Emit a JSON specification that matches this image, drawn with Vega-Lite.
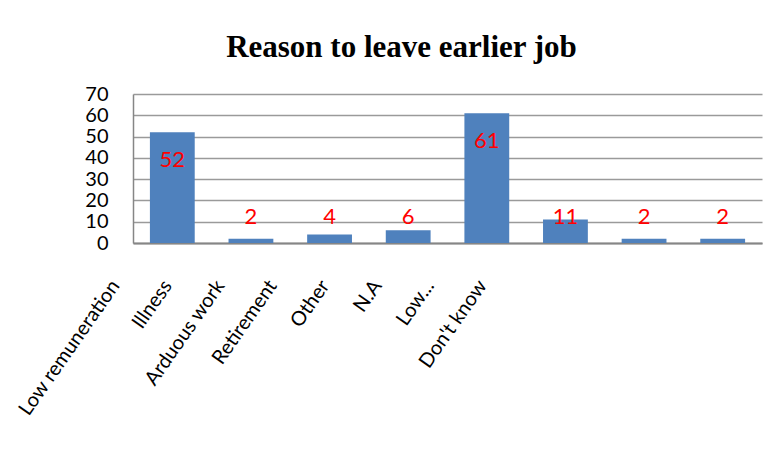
{
  "$schema": "https://vega.github.io/schema/vega-lite/v6.json",
  "autosize": "none",
  "width": 629,
  "height": 149,
  "padding": {"left": 133, "top": 94, "right": 19, "bottom": 210},
  "background": "white",
  "title": {"text": "Reason to leave earlier job", "font": "Liberation Serif", "fontSize": 31, "fontWeight": "bold", "color": "black", "anchor": "middle", "dx": -46, "offset": 20},
  "data": {"values": [
    {"reason": "Low remuneration", "count": 52},
    {"reason": "Illness", "count": 2},
    {"reason": "Arduous work", "count": 4},
    {"reason": "Retirement", "count": 6},
    {"reason": "Other", "count": 61},
    {"reason": "N.A", "count": 11},
    {"reason": "Low...", "count": 2},
    {"reason": "Don't know", "count": 2}
  ]},
  "config": {"view": {"stroke": null}},
  "layer": [
    {
      "layer": [
        {
          "mark": {"type": "bar", "color": "#4F81BD"},
          "encoding": {
            "x": {"field": "reason", "type": "nominal", "sort": null, "scale": {"paddingInner": 0.43, "paddingOuter": 0.215},
              "axis": {"labels": false, "ticks": false, "title": null, "domainColor": "#868686", "domainWidth": 2}},
            "y": {"field": "count", "type": "quantitative", "scale": {"domain": [0, 70]},
              "axis": {"title": null, "values": [0, 10, 20, 30, 40, 50, 60, 70], "grid": true, "gridColor": "#9a9a9a", "gridWidth": 1.5, "ticks": false, "domainColor": "#868686", "domainWidth": 1.5, "labelFont": "Lato", "labelFontSize": 20, "labelColor": "black", "labelPadding": 25, "labelOverlap": false}}
          }
        },
        {
          "transform": [{"filter": "datum.count >= 20"}],
          "mark": {"type": "text", "color": "#FF0000", "font": "Lato", "fontSize": 22, "baseline": "middle", "dy": 28},
          "encoding": {
            "x": {"field": "reason", "type": "nominal", "sort": null},
            "y": {"field": "count", "type": "quantitative",
              "axis": {"title": null, "values": [0, 10, 20, 30, 40, 50, 60, 70], "grid": true, "gridColor": "#9a9a9a", "gridWidth": 1.5, "ticks": false, "domainColor": "#868686", "domainWidth": 1.5, "labelFont": "Lato", "labelFontSize": 20, "labelColor": "black", "labelPadding": 25, "labelOverlap": false}},
            "text": {"field": "count", "type": "quantitative"}
          }
        },
        {
          "transform": [{"filter": "datum.count < 20"}],
          "mark": {"type": "text", "color": "#FF0000", "font": "Lato", "fontSize": 22, "baseline": "middle"},
          "encoding": {
            "x": {"field": "reason", "type": "nominal", "sort": null},
            "y": {"datum": 12, "type": "quantitative",
              "axis": {"title": null, "values": [0, 10, 20, 30, 40, 50, 60, 70], "grid": true, "gridColor": "#9a9a9a", "gridWidth": 1.5, "ticks": false, "domainColor": "#868686", "domainWidth": 1.5, "labelFont": "Lato", "labelFontSize": 20, "labelColor": "black", "labelPadding": 25, "labelOverlap": false}},
            "text": {"field": "count", "type": "quantitative"}
          }
        }
      ]
    },
    {
      "mark": {"type": "point", "opacity": 0},
      "encoding": {
        "x": {"field": "reason", "type": "nominal", "sort": null, "scale": {"type": "point", "padding": 0, "range": [0, 367]},
          "axis": {"orient": "bottom", "title": null, "domain": false, "ticks": false, "tickSize": 0, "grid": false, "labelAngle": -55, "labelAlign": "right", "labelBaseline": "middle", "labelPadding": 39, "labelOffset": -18, "labelFont": "Lato", "labelFontSize": 20, "labelColor": "black", "labelOverlap": false, "labelLimit": 0}}
      }
    }
  ],
  "resolve": {"scale": {"x": "independent"}}
}
